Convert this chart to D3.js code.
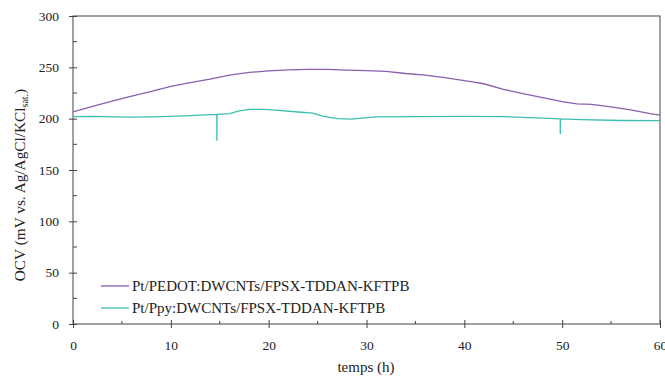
<!DOCTYPE html>
<html><head><meta charset="utf-8">
<script src="https://cdn.jsdelivr.net/npm/d3@7"></script>
<style>body{margin:0;background:#fff}svg{display:block}text{font-family:"Liberation Serif","DejaVu Serif",serif;fill:#222}</style>
</head><body><svg id="c" width="665" height="378"></svg>
<script>
const xTicks = [0,10,20,30,40,50,60];
const yTicks = [0,50,100,150,200,250,300];
const seriesNames = ["Pt/PEDOT:DWCNTs/FPSX-TDDAN-KFTPB","Pt/Ppy:DWCNTs/FPSX-TDDAN-KFTPB"];
const colors = ["#8a5fb0","#3dbdb3"];
const pedotT = [0,2,4,6,8,10,12,14,16,18,20,22,24,26,28,30,32,34,36,38,40,41,42,44,46,48,50,51.5,53,55,57,59,60];
const pedotV = [206.5,212,217,222,226.5,231.5,235,238.5,242.5,245,246.5,247.5,248,248,247.3,246.8,246,244,242.5,240,237,235.5,234,228.5,224.5,220.5,216.5,214.5,214,211.5,208.5,205,203.5];
const ppyT = [0,2,4,6,8,10,12,14,14.7,14.71,14.72,16,17,18,19.5,21,23,24.5,25.5,27,28.5,29.5,31,35,40,44,48,49.8,49.81,49.82,52,56,60];
const ppyV = [202,202.3,201.8,201.5,201.7,202.3,203,204,204.2,178.5,204.2,205,207.5,209,209,208,206.5,205.5,202.5,200,199.5,200.5,201.8,202,202.3,202,200.5,199.8,185,199.8,199,198.2,198];

const svg = d3.select("#c");
const L=73,R=660,T=16,B=324;
const x = d3.scaleLinear().domain([0,60]).range([L,R]);
const y = d3.scaleLinear().domain([0,300]).range([B,T]);
const axisCol="#444";
const FF = '"Liberation Serif","DejaVu Serif",serif';

svg.append("rect").attr("x",L).attr("y",T).attr("width",R-L).attr("height",B-T).attr("fill","none").attr("stroke",axisCol).attr("stroke-width",1);

const xMinor = d3.range(5,60,10), yMinor = d3.range(25,300,50);
svg.append("g").selectAll("line").data(xMinor).join("line")
 .attr("x1",d=>x(d)).attr("x2",d=>x(d)).attr("y1",B).attr("y2",B-3).attr("stroke",axisCol);
svg.append("g").selectAll("line").data(yMinor).join("line")
 .attr("y1",d=>y(d)).attr("y2",d=>y(d)).attr("x1",L).attr("x2",L+4).attr("stroke",axisCol);

const xa = svg.append("g").attr("transform",`translate(0,${B})`)
 .call(d3.axisBottom(x).tickValues(xTicks).tickSize(4).tickPadding(12).tickFormat(d3.format("d")));
const ya = svg.append("g").attr("transform",`translate(${L},0)`)
 .call(d3.axisLeft(y).tickValues(yTicks).tickSize(4).tickPadding(10).tickFormat(d3.format("d")));
[xa,ya].forEach(a=>{a.select(".domain").remove();a.selectAll("line").attr("stroke",axisCol);a.selectAll("text").attr("font-size",13.5).attr("font-family",FF).attr("fill","#222");});
xa.selectAll(".tick line").attr("y1",-4);
ya.selectAll(".tick line").attr("x1",4);

const line = d3.line().x(d=>x(d[0])).y(d=>y(d[1]));
const data = [d3.zip(pedotT,pedotV), d3.zip(ppyT,ppyV)];
svg.append("g").selectAll("path").data(data).join("path")
 .attr("d",line).attr("fill","none").attr("stroke",(d,i)=>colors[i]).attr("stroke-width",1.3);

const lg = svg.append("g");
seriesNames.forEach((n,i)=>{
  const yy = 286 + i*22;
  lg.append("line").attr("x1",101).attr("x2",129).attr("y1",yy).attr("y2",yy).attr("stroke",colors[i]).attr("stroke-width",1.3);
  lg.append("text").attr("x",132).attr("y",yy+5).attr("font-size",15).attr("font-family",FF).text(n);
});

svg.append("text").attr("x",366).attr("y",372).attr("text-anchor","middle").attr("font-size",15).attr("font-family",FF).text("temps (h)");
const yl = svg.append("text").attr("transform","translate(25,185) rotate(-90)").attr("text-anchor","middle").attr("font-size",15.3).attr("font-family",FF);
yl.append("tspan").text("OCV (mV vs. Ag/AgCl/KCl");
yl.append("tspan").attr("font-size",10).attr("dy",3).text("sat.");
yl.append("tspan").attr("dy",-3).text(")");
</script></body></html>
